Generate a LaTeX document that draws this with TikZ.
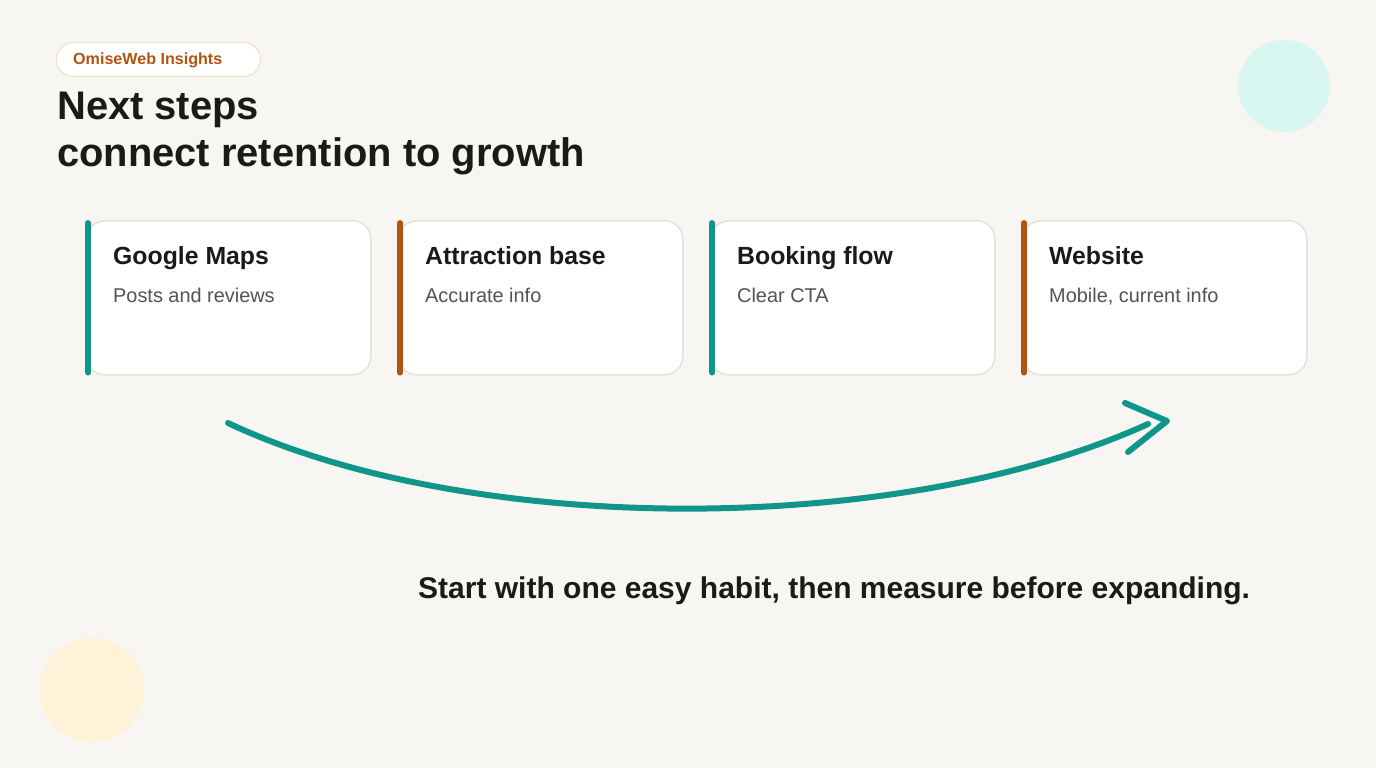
\documentclass[tikz,border=0pt]{standalone}
\usepackage{fontspec}
\setmainfont{Liberation Sans}
\definecolor{bg}{HTML}{F8F6F2}
\definecolor{teal}{HTML}{10958A}
\definecolor{rust}{HTML}{B4530F}
\definecolor{ink}{HTML}{1C1A17}
\definecolor{sub}{HTML}{555350}
\definecolor{cardline}{HTML}{E3E1DD}
\definecolor{badgeline}{HTML}{F2DCCB}
\definecolor{mint}{HTML}{D8F7F0}
\definecolor{cream}{HTML}{FEF3D8}
\tikzset{
  card/.style={draw=cardline, line width=1.5pt, fill=white, rounded corners=18pt,
    minimum width=284pt, minimum height=154pt, anchor=north west, inner sep=0pt},
  bar/.style={line width=6pt, line cap=round, draw=#1},
  ctitle/.style={anchor=base west, inner sep=0pt, font=\fontsize{24.8}{28}\selectfont\bfseries, text=ink},
  csub/.style={anchor=base west, inner sep=0pt, font=\fontsize{19.9}{24}\selectfont, text=sub},
  flow/.style={draw=teal, line width=6pt, line cap=round, line join=round},
}
\begin{document}
\begin{tikzpicture}[x=1pt,y=-1pt]
\useasboundingbox (0,0) rectangle (1376,768);
\fill[bg] (0,0) rectangle (1376,768);
% decorative circles
\fill[mint] (1284,86) circle[radius=46pt];
\fill[cream] (92,690) circle[radius=52pt];
% badge
\node[draw=badgeline, line width=1pt, fill=white, rounded corners=17pt, minimum width=204pt,
  minimum height=34pt, anchor=north west, inner sep=0pt] (badge) at (56,42) {};
\node[anchor=base west, inner sep=0pt, text=rust, font=\fontsize{16.1}{18}\selectfont\bfseries]
  (badgetext) at (73,65) {OmiseWeb Insights};
% title
\node[anchor=base west, inner sep=0pt, text=ink, font=\fontsize{39.9}{47}\selectfont\bfseries]
  (title1) at (57,119) {Next steps};
\node[anchor=base west, inner sep=0pt, text=ink, font=\fontsize{39.9}{47}\selectfont\bfseries]
  (title2) at (57,166) {connect retention to growth};
% cards
\foreach \i/\x/\col/\t/\s in {1/86/teal/Google Maps/Posts and reviews,
    2/398/rust/Attraction base/Accurate info,
    3/710/teal/Booking flow/Clear CTA,
    4/1022/rust/Website/{Mobile, current info}} {
  \node[card] (c\i) at (\x,220) {};
  \draw[bar=\col] ([xshift=2pt,yshift=-3pt]c\i.north west) -- ([xshift=2pt,yshift=3pt]c\i.south west);
  \node[ctitle] (t\i) at ([xshift=27pt,yshift=-44pt]c\i.north west) {\t};
  \node[csub] (s\i) at ([xshift=27pt,yshift=-82pt]c\i.north west) {\s};
}
% flow arrow
\coordinate (fstart) at (228,423);
\coordinate (fend) at (1148,424);
\coordinate (tip) at (1167,421);
\coordinate (armA) at (1125,403);
\coordinate (armB) at (1128,452);
\draw[flow] (fstart) .. controls (470,537) and (900,537) .. (fend);
\draw[flow] (armA) -- (tip) -- (armB);
% footer
\node[anchor=base west, inner sep=0pt, text=ink, font=\fontsize{30}{36}\selectfont\bfseries]
  (footer) at (418,598) {Start with one easy habit, then measure before expanding.};
\end{tikzpicture}
\end{document}
